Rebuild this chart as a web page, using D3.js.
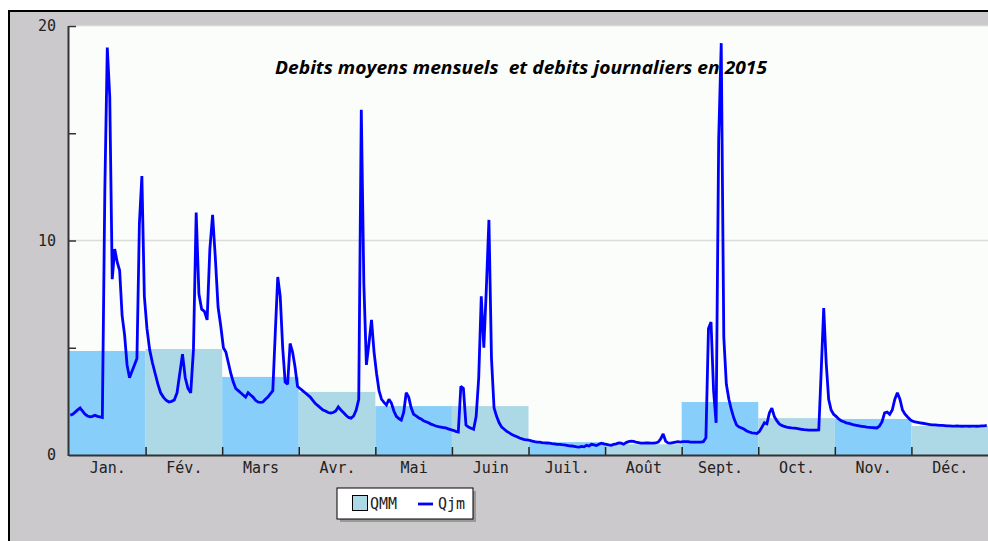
<!DOCTYPE html>
<html><head><meta charset="utf-8">
<script src="https://cdn.jsdelivr.net/npm/d3@7"></script>
<style>
html,body{margin:0;padding:0;background:#fff;}
svg{display:block;}
</style></head>
<body>
<svg id="chart" width="988" height="541"></svg>
<script>
const months = ["Jan.","Fév.","Mars","Avr.","Mai","Juin","Juil.","Août","Sept.","Oct.","Nov.","Déc."];
const qmm = [4.85, 4.94, 3.64, 2.94, 2.28, 2.28, 0.6, 0.5, 2.47, 1.72, 1.68, 1.35];
const yTicks = [0, 10, 20];
const titleText = "Debits moyens mensuels  et debits journaliers en 2015";

const qjmJan = [1.86,1.9,2.0,2.1,2.19,2.05,1.9,1.82,1.78,1.8,1.85,1.8,1.78,1.75,12.3,19.0,16.7,8.2,9.6,9.0,8.6,6.5,5.6,4.2,3.6,3.9,4.2,4.5,10.8,13.0,7.4];
const qjmFev = [5.9,4.9,4.3,3.8,3.3,2.9,2.7,2.55,2.47,2.5,2.56,2.9,3.8,4.7,3.6,3.1,2.9,4.9,11.3,7.5,6.8,6.7,6.3,9.6,11.2,9.2,6.9,6.0];
const qjmMars = [5.0,4.8,4.3,3.8,3.4,3.1,3.0,2.9,2.8,2.7,2.9,2.8,2.7,2.55,2.47,2.45,2.47,2.6,2.7,2.85,3.0,5.7,8.3,7.4,5.0,3.4,3.3,5.2,4.8,4.1,3.2];
const qjmAvr = [3.1,3.0,2.9,2.8,2.7,2.55,2.4,2.3,2.2,2.1,2.05,1.98,1.96,1.98,2.05,2.24,2.1,1.98,1.85,1.75,1.72,1.82,2.1,2.6,16.1,8.0,4.2,5.2,6.3,4.8];
const qjmMai = [3.8,3.0,2.6,2.45,2.33,2.6,2.42,2.05,1.8,1.7,1.63,2.0,2.9,2.7,2.2,1.9,1.82,1.74,1.68,1.6,1.55,1.5,1.44,1.4,1.35,1.32,1.3,1.28,1.26,1.22,1.18];
const qjmJuin = [1.15,1.1,1.07,3.2,3.1,1.4,1.3,1.25,1.2,1.8,3.6,7.4,5.0,7.8,10.96,4.5,2.2,1.8,1.5,1.3,1.2,1.1,1.03,0.95,0.9,0.85,0.79,0.75,0.72,0.7];
const qjmJuil = [0.68,0.65,0.62,0.6,0.6,0.58,0.57,0.56,0.55,0.53,0.52,0.5,0.5,0.48,0.47,0.45,0.43,0.42,0.4,0.38,0.37,0.4,0.38,0.45,0.42,0.5,0.47,0.44,0.5,0.55,0.52];
const qjmAout = [0.5,0.47,0.45,0.5,0.52,0.56,0.55,0.5,0.58,0.62,0.65,0.63,0.6,0.58,0.55,0.55,0.56,0.56,0.55,0.55,0.56,0.6,0.75,0.98,0.65,0.56,0.55,0.58,0.6,0.62,0.6];
const qjmSept = [0.62,0.62,0.62,0.6,0.6,0.6,0.6,0.6,0.62,0.8,5.9,6.2,3.0,1.5,14.7,19.2,5.5,3.3,2.6,2.1,1.7,1.4,1.3,1.26,1.2,1.12,1.07,1.03,1.02,1.0];
const qjmOct = [1.1,1.3,1.5,1.45,1.96,2.19,1.8,1.6,1.45,1.38,1.33,1.3,1.28,1.26,1.25,1.24,1.22,1.2,1.18,1.17,1.16,1.16,1.16,1.16,1.17,3.96,6.85,4.3,2.6,2.1,1.9];
const qjmNov = [1.8,1.68,1.6,1.55,1.5,1.47,1.44,1.4,1.38,1.36,1.34,1.32,1.3,1.29,1.28,1.27,1.26,1.35,1.55,1.96,2.0,1.9,2.1,2.6,2.9,2.6,2.1,1.9,1.77,1.65];
const qjmDec = [1.58,1.54,1.52,1.5,1.48,1.46,1.44,1.42,1.4,1.4,1.39,1.38,1.38,1.37,1.36,1.36,1.35,1.35,1.36,1.35,1.34,1.35,1.35,1.34,1.35,1.35,1.34,1.35,1.36,1.36,1.38];
const qjmByMonth = [qjmJan,qjmFev,qjmMars,qjmAvr,qjmMai,qjmJuin,qjmJuil,qjmAout,qjmSept,qjmOct,qjmNov,qjmDec];

const svg = d3.select("#chart");
const W = 988, H = 541;
const m = {left: 69, top: 26, right: 988, bottom: 455};

// outer background and frame
svg.append("rect").attr("x", 9).attr("y", 11).attr("width", W).attr("height", H)
  .attr("fill", "#ccc9cc").attr("stroke", "#000").attr("stroke-width", 2);

const x = d3.scaleLinear().domain([0, 12]).range([m.left, m.right]);
const y = d3.scaleLinear().domain([0, 20]).range([m.bottom, m.top]);

// plot background
svg.append("rect").attr("x", x(0)).attr("y", y(20)).attr("width", x(12) - x(0)).attr("height", y(0) - y(20))
  .attr("fill", "#fbfdfb");

// grid lines
svg.append("g").selectAll("line").data([10, 20]).join("line")
  .attr("x1", x(0)).attr("x2", x(12)).attr("y1", d => y(d)).attr("y2", d => y(d))
  .attr("stroke", d => d === 10 ? "#dcdcdc" : "#e4e4e4").attr("stroke-width", d => d === 10 ? 1.5 : 1);

// bars
svg.append("g").selectAll("rect").data(qmm).join("rect")
  .attr("x", (d, i) => x(i)).attr("width", (d, i) => x(i + 1) - x(i))
  .attr("y", d => y(d)).attr("height", d => y(0) - y(d))
  .attr("fill", (d, i) => i % 2 === 0 ? "#87cefa" : "#add8e6");

// daily line
const pts = [];
qjmByMonth.forEach((arr, mi) => {
  arr.forEach((v, di) => pts.push({t: mi + (di + 0.5) / arr.length, v}));
});
svg.append("path").datum(pts)
  .attr("fill", "none").attr("stroke", "#0000ff").attr("stroke-width", 2.8)
  .attr("stroke-linejoin", "miter").attr("stroke-miterlimit", 2)
  .attr("d", d3.line().x(d => x(d.t)).y(d => y(d.v)));

// axes
const fontMono = "'DejaVu Sans Mono', monospace";
const yAxis = svg.append("g").attr("transform", `translate(${x(0)},0)`)
  .call(d3.axisLeft(y).tickValues(yTicks).tickSize(0).tickPadding(13));
yAxis.select(".domain").remove();
yAxis.selectAll("text").attr("font-family", fontMono).attr("font-size", 15).attr("fill", "#222");

const yTickMarks = svg.append("g").attr("transform", `translate(${x(0)},0)`)
  .call(d3.axisRight(y).tickValues([5, 10, 15, 20]).tickSize(7).tickFormat(""));
yTickMarks.select(".domain").remove();
yTickMarks.selectAll("line").attr("stroke", "#333").attr("stroke-width", 1.5);

const xTickMarks = svg.append("g").attr("transform", `translate(0,${y(0)})`)
  .call(d3.axisTop(x).tickValues(d3.range(1, 12)).tickSize(8).tickFormat(""));
xTickMarks.select(".domain").remove();
xTickMarks.selectAll("line").attr("stroke", "#222").attr("stroke-width", 1.5);

const xLabels = svg.append("g").attr("transform", `translate(0,${y(0)})`)
  .call(d3.axisBottom(x).tickValues(d3.range(12).map(i => i + 0.5)).tickSize(0).tickPadding(7)
    .tickFormat((d) => months[Math.floor(d)]));
xLabels.select(".domain").remove();
xLabels.selectAll("text").attr("font-family", fontMono).attr("font-size", 15).attr("fill", "#222");

// axis lines
svg.append("line").attr("x1", x(0)).attr("x2", x(12)).attr("y1", y(0) + 0.5).attr("y2", y(0) + 0.5)
  .attr("stroke", "#333").attr("stroke-width", 2);
svg.append("line").attr("x1", x(0) - 0.5).attr("x2", x(0) - 0.5).attr("y1", y(20)).attr("y2", y(0) + 1)
  .attr("stroke", "#333").attr("stroke-width", 2);

// title
svg.append("text").attr("x", 275).attr("y", 74)
  .attr("font-family", "'Open Sans', Lato, sans-serif").attr("font-weight", "bold").attr("font-style", "italic")
  .attr("font-size", 18).attr("fill", "#000").style("white-space", "pre")
  .attr("textLength", 492).attr("lengthAdjust", "spacingAndGlyphs")
  .text(titleText);

// legend
const lg = svg.append("g");
lg.append("rect").attr("x", 340).attr("y", 491).attr("width", 136).attr("height", 31).attr("fill", "#999");
lg.append("rect").attr("x", 337).attr("y", 488).attr("width", 136).attr("height", 31)
  .attr("fill", "#fff").attr("stroke", "#000").attr("stroke-width", 1);
lg.append("rect").attr("x", 352.5).attr("y", 495.5).attr("width", 15).attr("height", 15)
  .attr("fill", "#add8e6").attr("stroke", "#000").attr("stroke-width", 1);
lg.append("text").attr("x", 370).attr("y", 509).attr("font-family", fontMono).attr("font-size", 15).attr("fill", "#222").text("QMM");
lg.append("line").attr("x1", 418).attr("x2", 433).attr("y1", 504).attr("y2", 504).attr("stroke", "#0000ff").attr("stroke-width", 2.8);
lg.append("text").attr("x", 438).attr("y", 509).attr("font-family", fontMono).attr("font-size", 15).attr("fill", "#222").text("Qjm");
</script>
</body></html>
